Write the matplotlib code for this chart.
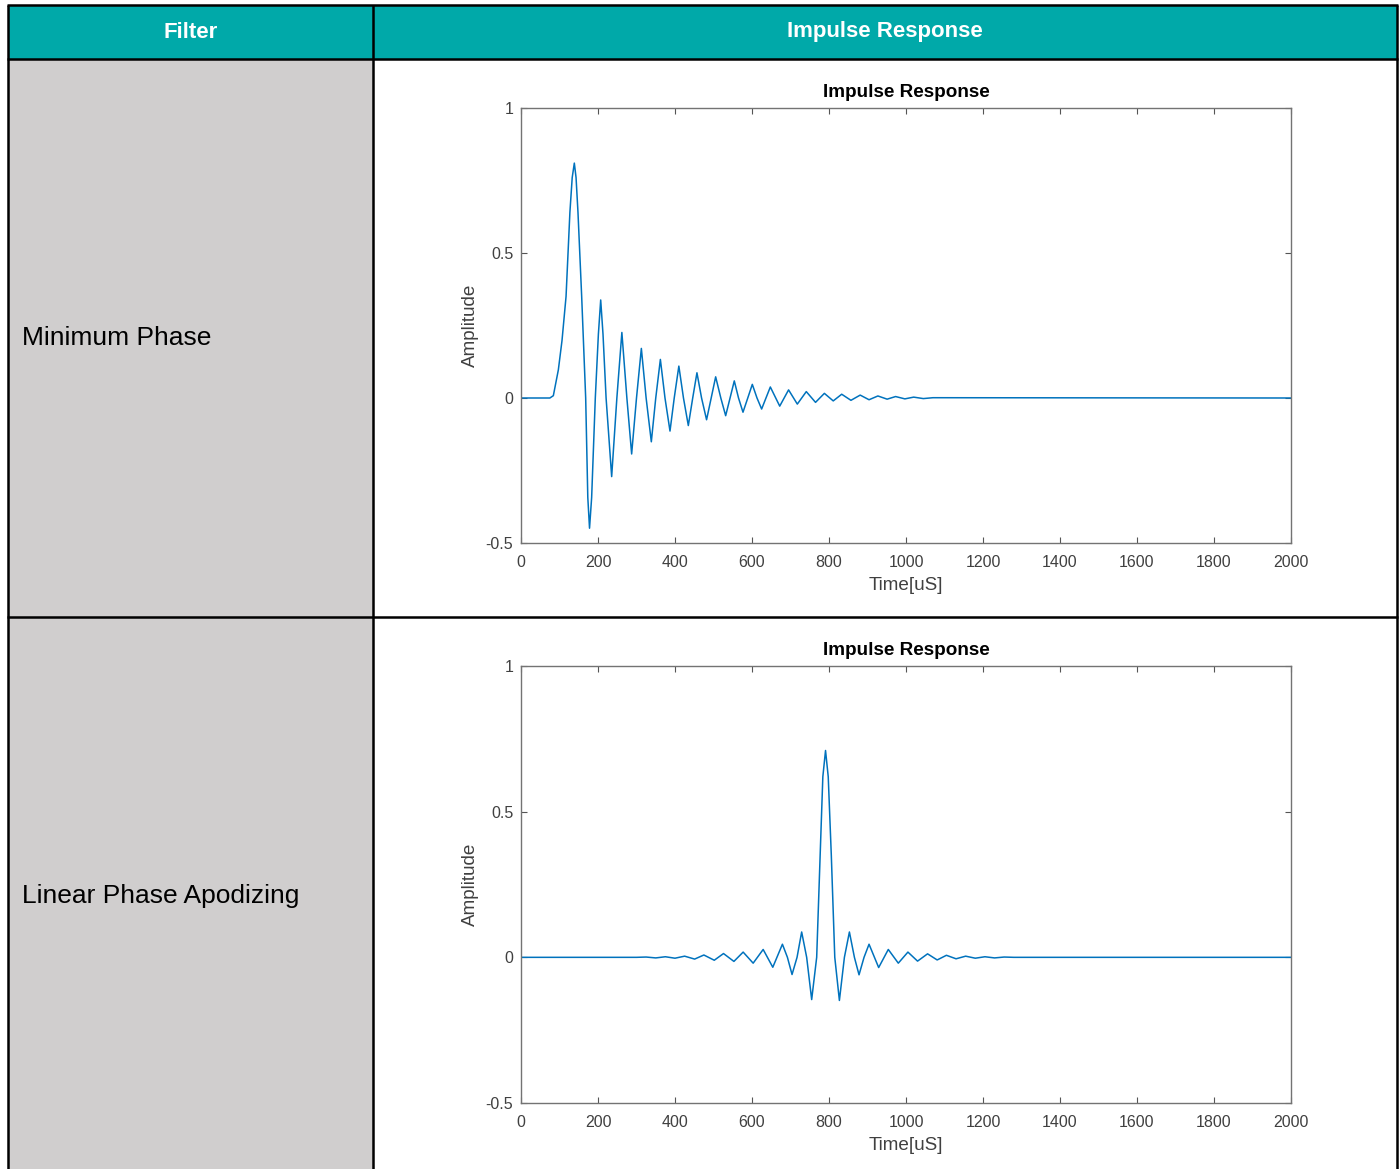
import numpy as np
import matplotlib
matplotlib.use('Agg')
import matplotlib.pyplot as plt
from matplotlib.patches import Rectangle

# table texts
header_labels = ['Filter', 'Impulse Response']
filter_names = ['Minimum Phase', 'Linear Phase Apodizing']

# minimum phase impulse response (time uS, amplitude)
t_min = [0, 75, 84, 97, 106.5, 117, 127, 133, 138.5, 143, 148, 157.6, 168, 173.5, 178, 183.5,
         193, 201, 207, 213, 221, 235.5, 249, 262, 275, 287.4, 300, 312.6, 325, 338.5, 350,
         362, 374, 387, 398, 410, 422, 434.6, 446, 457, 469, 482, 494, 505.6, 519, 531.6, 543,
         554, 565, 576.6, 589, 600.8, 613, 625, 647.6, 672, 695, 717.7, 741,
         765, 788, 811, 833, 857, 881, 904, 927, 951, 973, 997, 1020, 1045, 1070, 2000]
a_min = [0, 0, 0.008, 0.097, 0.198, 0.35, 0.64, 0.76, 0.81, 0.76, 0.64, 0.35, 0, -0.343, -0.449, -0.343,
         0, 0.22, 0.338, 0.22, 0, -0.271, 0, 0.226, 0, -0.193, 0, 0.171, 0, -0.151, 0,
         0.133, 0, -0.114, 0, 0.110, 0, -0.095, 0, 0.087, 0, -0.075, 0, 0.073, 0, -0.061, 0,
         0.059, 0, -0.049, 0, 0.047, 0, -0.038, 0.038, -0.028, 0.028, -0.021, 0.022,
         -0.015, 0.016, -0.010, 0.013, -0.008, 0.010, -0.006, 0.007, -0.004, 0.005, -0.003, 0.003, -0.002, 0.001, 0]

# linear phase apodizing impulse response
t_lin = [0, 300, 325, 350, 375, 400, 425, 451, 475, 502, 526, 553, 577, 603, 629, 654, 679, 692,
         704, 717, 729, 742, 755, 768, 777, 784, 791, 798, 806, 815, 827, 840, 853, 866, 878,
         891, 904, 929, 954, 980, 1005, 1030, 1056, 1081, 1105, 1130, 1155, 1180, 1205, 1230,
         1255, 1280, 2000]
a_lin = [0, 0, 0.001, -0.002, 0.002, -0.003, 0.004, -0.006, 0.008, -0.010, 0.013, -0.014, 0.018,
         -0.020, 0.027, -0.034, 0.045, 0, -0.059, 0, 0.087, 0, -0.145, 0, 0.35, 0.62, 0.71, 0.62,
         0.35, 0, -0.148, 0, 0.087, 0, -0.060, 0, 0.045, -0.035, 0.027, -0.020, 0.018, -0.013,
         0.012, -0.009, 0.007, -0.005, 0.004, -0.003, 0.002, -0.002, 0.001, 0, 0]

x_ticks = list(range(0, 2001, 200))
y_ticks = [-0.5, 0, 0.5, 1]
y_ticklabels = ['-0.5', '0', '0.5', '1']

W, H = 1399, 1169
sans = ['Liberation Sans', 'DejaVu Sans']

fig = plt.figure(figsize=(W/100, H/100), dpi=100)
fig.patch.set_facecolor('white')

# table background in pixel coordinates
bg = fig.add_axes([0, 0, 1, 1])
bg.set_xlim(0, W)
bg.set_ylim(H, 0)
bg.axis('off')
bg.add_patch(Rectangle((8, 5), 1389, 54, facecolor='#00A9A9', edgecolor='none'))
bg.add_patch(Rectangle((8, 59), 365, H - 59, facecolor='#D0CECE', edgecolor='none'))
lw = 1.8
for y in [5, 59, 617]:
    bg.plot([7, 1398], [y, y], color='black', lw=lw, solid_capstyle='butt')
for x in [8, 373, 1397]:
    bg.plot([x, x], [5, H], color='black', lw=lw, solid_capstyle='butt')

bg.text(190.5, 32, header_labels[0], ha='center', va='center', color='white',
        fontsize=16, fontweight='bold', family=sans)
bg.text(885, 32, header_labels[1], ha='center', va='center', color='white',
        fontsize=16, fontweight='bold', family=sans)
bg.text(22, 338, filter_names[0], ha='left', va='center', color='black',
        fontsize=19, family=sans)
bg.text(22, 896, filter_names[1], ha='left', va='center', color='black',
        fontsize=19, family=sans)


def setup(ax, t, a):
    ax.plot(t, a, color='#0072BD', lw=1.1, solid_joinstyle='round')
    ax.set_xlim(0, 2000)
    ax.set_ylim(-0.5, 1)
    ax.set_xticks(x_ticks)
    ax.set_yticks(y_ticks)
    ax.set_yticklabels(y_ticklabels)
    for s in ax.spines.values():
        s.set_color('#737373')
        s.set_linewidth(1.0)
    ax.tick_params(direction='in', length=4.5, width=0.8, color='#555555',
                   top=True, right=True, labelsize=11.5, labelcolor='#404040', pad=5.5)
    ax.tick_params(axis='x', pad=8.5)
    for lab in ax.get_xticklabels() + ax.get_yticklabels():
        lab.set_family(sans)
    ax.set_title('Impulse Response', fontsize=13.6, fontweight='bold', family=sans,
                 color='black', pad=8)
    ax.set_xlabel('Time[uS]', fontsize=13.6, family=sans, color='#404040', labelpad=5)
    ax.set_ylabel('Amplitude', fontsize=13.6, family=sans, color='#404040', labelpad=5)


ax1 = fig.add_axes([521/W, 1 - 543/H, 770/W, 435/H])
setup(ax1, t_min, a_min)
ax2 = fig.add_axes([521/W, 1 - 1103/H, 770/W, 437/H])
setup(ax2, t_lin, a_lin)

fig.savefig('out.png', dpi=100)
